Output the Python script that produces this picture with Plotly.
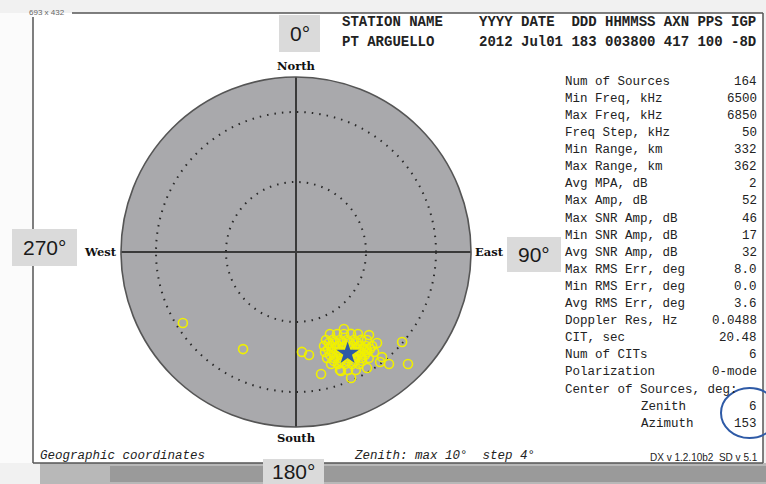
import plotly.graph_objects as go

W, H = 766, 484

# ---------------- data ----------------
# source positions: zenith (deg) and azimuth (deg, clockwise from North)
src_zenith = [
    7.63, 6.32, 5.72, 5.93, 7.12, 7.27, 7.86, 7.77, 8.32, 9.05, 7.95, 5.18, 6.32, 7.76, 7.91, 6.96, 6.91,
    5.07, 5.24, 5.43, 5.64, 5.87,
    5.31, 5.45, 5.62, 5.81, 6.02, 6.25, 6.46,
    5.60, 5.73, 5.88, 6.06, 6.25, 6.47, 6.70, 6.91,
    5.95, 6.07, 6.22, 6.39, 6.58, 6.78, 7.01, 7.25,
    6.31, 6.43, 6.58, 6.75, 6.93, 7.14, 7.35,
    6.70, 6.83, 6.99, 7.16, 7.34,
    7.20, 7.37, 7.56,
    5.68, 5.85, 6.05, 6.26, 5.53,
    5.84, 5.97, 6.13, 6.32, 6.52, 6.74, 6.97,
    6.20, 6.34, 6.49, 6.67, 6.87, 7.08,
    6.60, 6.74, 6.90, 7.08, 7.28,
]
src_azimuth = [
    237.9, 208.6, 176.6, 172.8, 168.4, 159.3, 156.4, 148.5, 140.3, 135.0, 130.3, 148.1, 138.7, 140.7, 142.6, 138.3, 144.1,
    157.5, 153.4, 149.7, 146.1, 142.9,
    161.2, 157.2, 153.4, 149.9, 146.6, 143.5, 141.1,
    163.4, 159.6, 155.9, 152.5, 149.2, 146.2, 143.3, 141.0,
    163.8, 160.2, 156.7, 153.4, 150.3, 147.4, 144.6, 142.0,
    163.7, 160.3, 157.0, 153.9, 150.9, 148.1, 145.5,
    162.6, 159.4, 156.4, 153.4, 150.6,
    159.6, 156.2, 153.1,
    156.3, 152.7, 149.3, 146.2, 160.1,
    161.7, 158.1, 154.6, 151.3, 148.3, 145.4, 142.7,
    161.7, 158.3, 155.0, 151.9, 149.0, 146.2,
    160.8, 157.6, 154.5, 151.6, 148.8,
]
center_zenith = [6.5]
center_azimuth = [153]

direction_angles = [0, 90, 180, 270]
direction_names = ["North", "East", "South", "West"]
zenith_rings = [4, 8]
zenith_max = 10

header_line1 = ["STATION NAME", "YYYY DATE  DDD HHMMSS AXN PPS IGP"]
header_line2 = ["PT ARGUELLO", "2012 Jul01 183 003800 417 100 -8D"]

table_labels = [
    "Num of Sources", "Min Freq, kHz", "Max Freq, kHz", "Freq Step, kHz", "Min Range, km",
    "Max Range, km", "Avg MPA, dB", "Max Amp, dB", "Max SNR Amp, dB", "Min SNR Amp, dB",
    "Avg SNR Amp, dB", "Max RMS Err, deg", "Min RMS Err, deg", "Avg RMS Err, deg",
    "Doppler Res, Hz", "CIT, sec", "Num of CITs", "Polarization", "Center of Sources, deg:",
    "Zenith", "Azimuth",
]
table_values = [
    "164", "6500", "6850", "50", "332", "362", "2", "52", "46", "17", "32",
    "8.0", "0.0", "3.6", "0.0488", "20.48", "6", "0-mode", "", "6", "153",
]
callout_labels = ["0°", "90°", "180°", "270°"]

# ---------------- figure ----------------
def px(x):
    return x / W

def py(y):
    return 1 - y / H

fig = go.Figure()

fig.add_trace(go.Scatterpolar(
    r=src_zenith, theta=src_azimuth, mode="markers",
    marker=dict(symbol="circle-open", size=9, color="rgb(240,240,0)", line=dict(width=1.6, color="rgb(240,240,0)")),
    hoverinfo="skip", showlegend=False,
))
fig.add_trace(go.Scatterpolar(
    r=center_zenith, theta=center_azimuth, mode="markers",
    marker=dict(symbol="star", size=17, color="#2d5aa6", line=dict(width=0)),
    hoverinfo="skip", showlegend=False,
))

cx, cy, R = 296, 252, 175
fig.update_layout(
    width=W, height=H, autosize=False,
    margin=dict(l=0, r=0, t=0, b=0),
    paper_bgcolor="#f1f1f1",
    plot_bgcolor="white",
    showlegend=False,
    polar=dict(
        domain=dict(x=[px(cx - R), px(cx + R)], y=[py(cy + R), py(cy - R)]),
        bgcolor="#a9a9ac",
        radialaxis=dict(range=[0, zenith_max], tickvals=zenith_rings, showticklabels=False, ticks="",
                        showline=False, gridcolor="#2a2a2a", gridwidth=1.6, griddash="1.5px,6px"),
        angularaxis=dict(rotation=90, direction="clockwise", tickvals=direction_angles,
                         showticklabels=False, ticks="", showgrid=True, gridcolor="#3a3a3a", gridwidth=1.6,
                         showline=True, linecolor="#555555", linewidth=1.6),
    ),
)

shapes = []
# shadow under frame
shapes.append(dict(type="rect", xref="paper", yref="paper", x0=px(40), x1=px(766), y0=py(484), y1=py(463),
                   fillcolor="#b8b8b8", line=dict(width=0), layer="below"))
shapes.append(dict(type="rect", xref="paper", yref="paper", x0=px(110), x1=px(766), y0=py(482), y1=py(466),
                   fillcolor="#9a9a9a", line=dict(width=0), layer="below"))
shapes.append(dict(type="rect", xref="paper", yref="paper", x0=px(0), x1=px(33), y0=py(463), y1=py(13),
                   fillcolor="#fbfbfb", line=dict(width=0), layer="below"))
# white frame interior
shapes.append(dict(type="rect", xref="paper", yref="paper", x0=px(33), x1=px(763), y0=py(463), y1=py(13),
                   fillcolor="white", line=dict(width=0), layer="below"))
# frame border lines
border = dict(color="#555555", width=1.5)
shapes.append(dict(type="line", xref="paper", yref="paper", x0=px(72), x1=px(763), y0=py(13), y1=py(13), line=border))
shapes.append(dict(type="line", xref="paper", yref="paper", x0=px(33), x1=px(33), y0=py(17), y1=py(463), line=border))
shapes.append(dict(type="line", xref="paper", yref="paper", x0=px(763), x1=px(763), y0=py(13), y1=py(463), line=border))
shapes.append(dict(type="line", xref="paper", yref="paper", x0=px(33), x1=px(763), y0=py(463), y1=py(463), line=border))

# callout boxes
boxes = {"0°": (279, 15, 320, 52), "90°": (507, 237, 561, 272), "180°": (263, 459, 324, 486), "270°": (12, 229, 77, 266)}
for lab in callout_labels:
    x0, y0, x1, y1 = boxes[lab]
    shapes.append(dict(type="rect", xref="paper", yref="paper", x0=px(x0), x1=px(x1), y0=py(y1), y1=py(y0),
                       fillcolor="#dadada", line=dict(width=0)))
# blue ellipse
shapes.append(dict(type="circle", xref="paper", yref="paper", x0=px(721), x1=px(778), y0=py(438), y1=py(388),
                   line=dict(color="#2e5aa6", width=2)))
fig.update_layout(shapes=shapes)

ann = []

def text(x, y, s, size=12, family="Liberation Mono", color="#222222", xanchor="left", bold=False, italic=False):
    if bold:
        s = "<b>" + s + "</b>"
    if italic:
        s = "<i>" + s + "</i>"
    ann.append(dict(x=px(x), y=py(y), xref="paper", yref="paper", text=s, showarrow=False,
                    xanchor=xanchor, yanchor="middle", font=dict(size=size, family=family, color=color)))

nb = lambda s: s.replace(" ", "\u00a0")

text(27, 12, "693 x 432", size=8, family="Liberation Sans", color="#666666")

# header
text(340, 22, nb(header_line1[0]), size=14, bold=True)
text(477, 22, nb(header_line1[1]), size=14, bold=True)
text(340, 42, nb(header_line2[0]), size=14, bold=True)
text(477, 42, nb(header_line2[1]), size=14, bold=True)

# direction labels
dir_pos = {"North": (cx, 66, "center"), "South": (cx, 438, "center"), "East": (473, 252, "left"), "West": (119, 252, "right")}
for name in direction_names:
    x, y, a = dir_pos[name]
    text(x, y, name, size=11.5, family="DejaVu Serif", color="#111111", xanchor=a, bold=True)

# callouts
for lab in callout_labels:
    x0, y0, x1, y1 = boxes[lab]
    text((x0 + x1) / 2, (y0 + y1) / 2 + (-1 if lab == "180°" else 0), lab, size=21, family="Liberation Sans",
         color="#1a1a1a", xanchor="center")

# table
for i, (lab, val) in enumerate(zip(table_labels, table_values)):
    y = 81.7 + 17.1 * i
    lx = 639 if lab in ("Zenith", "Azimuth") else 563
    text(lx, y, nb(lab), size=12.5, color="#222222")
    if val:
        text(759, y, val, size=12.5, color="#222222", xanchor="right")

# footer
text(38, 456, nb("Geographic coordinates"), size=12.5, italic=True)
text(352, 456, nb("Zenith: max 10°  step 4°"), size=12.5, italic=True)
text(760, 457, nb("DX v 1.2.10b2  SD v 5.1"), size=10, family="Liberation Sans", xanchor="right")

fig.update_layout(annotations=ann)
fig.write_html(
    "out.html",
    config={"displayModeBar": False},
    post_script="document.body.style.margin='0';document.body.style.overflow='hidden';",
)
